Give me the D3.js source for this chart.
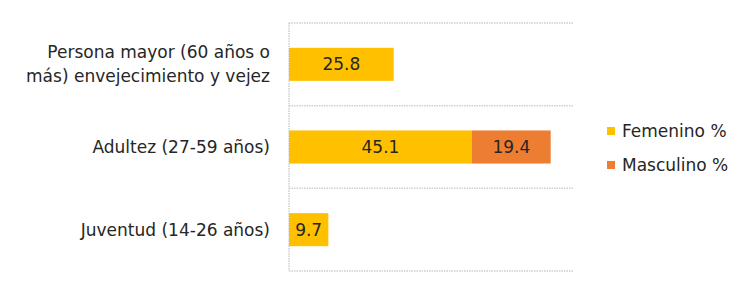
<!DOCTYPE html>
<html>
<head>
<meta charset="utf-8">
<script src="https://cdn.jsdelivr.net/npm/d3@7"></script>
<style>
  body { margin: 0; background: #fff; }
  text { font-family: "DejaVu Sans", sans-serif; fill: #262626; }
</style>
</head>
<body>
<div id="chart"></div>
<script>
// data
var categories = [
  ["Persona mayor (60 años o", "más) envejecimiento y vejez"],
  ["Adultez (27-59 años)"],
  ["Juventud (14-26 años)"]
];
var femenino = [25.8, 45.1, 9.7];
var masculino = [null, 19.4, null];
var seriesNames = ["Femenino %", "Masculino %"];
var colors = ["#FFC000", "#ED7D31"];

var svgWidth = 754, svgHeight = 295;
var margin = {top: 23, right: 181, bottom: 24, left: 289};
var chartWidth = svgWidth - margin.left - margin.right;
var chartHeight = svgHeight - margin.top - margin.bottom;
var fontSize = 17;

var svg = d3.select("#chart").append("svg")
  .attr("width", svgWidth)
  .attr("height", svgHeight);

var chart = svg.append("g")
  .attr("transform", `translate(${margin.left}, ${margin.top})`);

var idx = categories.map((d, i) => i);

var x = d3.scaleLinear().domain([0, 70]).range([0, chartWidth]);
var y = d3.scaleBand().domain(idx).range([0, chartHeight]).paddingInner(0.6).paddingOuter(0.3);

// horizontal dotted gridlines at category boundaries
var bounds = d3.range(categories.length + 1).map(i => i * chartHeight / categories.length);
chart.selectAll(".grid").data(bounds).enter().append("line")
  .attr("x1", 0).attr("x2", chartWidth)
  .attr("y1", d => d).attr("y2", d => d)
  .attr("stroke", "#d0d0d0").attr("stroke-width", 1.5)
  .attr("stroke-dasharray", "1.5,1");

// left axis line
chart.append("line")
  .attr("x1", 0).attr("x2", 0).attr("y1", 0).attr("y2", chartHeight)
  .attr("stroke", "#d0d0d0").attr("stroke-width", 1.5)
  .attr("stroke-dasharray", "1.5,1");

var stackData = idx.map(i => ({i: i, f: femenino[i] || 0, m: masculino[i] || 0}));
var stack = d3.stack().keys(["f", "m"])(stackData);

stack.forEach(function(layer, k) {
  var g = chart.append("g");
  g.selectAll("rect").data(layer.filter(d => d[1] > d[0])).enter().append("rect")
    .attr("x", d => x(d[0]))
    .attr("y", d => y(d.data.i))
    .attr("width", d => x(d[1]) - x(d[0]))
    .attr("height", y.bandwidth())
    .attr("fill", colors[k]);
  g.selectAll("text").data(layer.filter(d => d[1] > d[0])).enter().append("text")
    .attr("x", d => (x(d[0]) + x(d[1])) / 2)
    .attr("y", d => y(d.data.i) + y.bandwidth() / 2)
    .attr("dy", "0.35em")
    .attr("text-anchor", "middle")
    .attr("font-size", fontSize + "px")
    .text(d => (d[1] - d[0]).toFixed(1));
});

// category labels
var labels = chart.selectAll(".cat").data(idx).enter().append("text")
  .attr("class", "cat")
  .attr("text-anchor", "end")
  .attr("font-size", fontSize + "px")
  .attr("y", d => y(d) + y.bandwidth() / 2);
labels.each(function(d) {
  var lines = categories[d];
  var t = d3.select(this);
  lines.forEach(function(l, j) {
    t.append("tspan")
      .attr("x", -19)
      .attr("dy", j === 0 ? (0.35 - (lines.length - 1) * 0.71) + "em" : "1.42em")
      .text(l);
  });
});

// legend
var legend = svg.append("g").attr("transform", "translate(607, 127)");
seriesNames.forEach(function(name, i) {
  var row = legend.append("g").attr("transform", `translate(0, ${i * 34})`);
  row.append("rect").attr("width", 8).attr("height", 8).attr("fill", colors[i]);
  row.append("text").attr("x", 15).attr("y", 4).attr("dy", "0.35em")
    .attr("font-size", fontSize + "px").text(name);
});
</script>
</body>
</html>
